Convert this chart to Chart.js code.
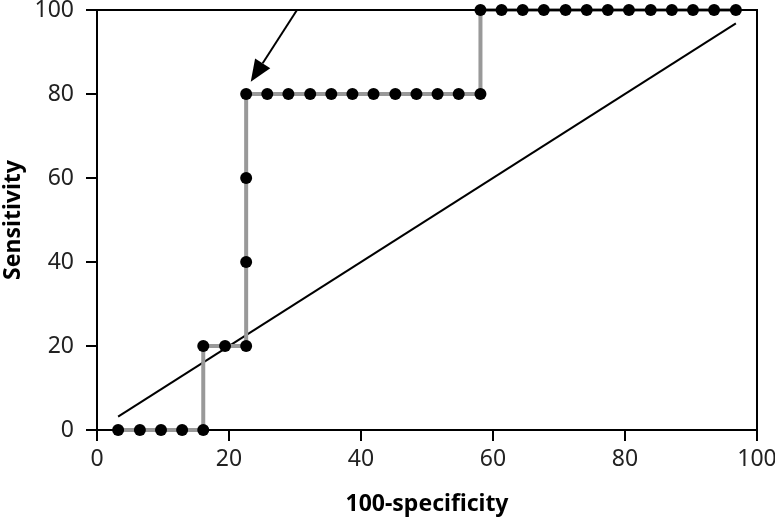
<!DOCTYPE html>
<html>
<head>
<meta charset="utf-8">
<script src="https://cdn.jsdelivr.net/npm/chart.js@4"></script>
<style>
  html, body { margin: 0; padding: 0; background: #fff; }
  #wrap { width: 775px; height: 518px; }
</style>
</head>
<body>
<div id="wrap"><canvas id="rocChart" width="775" height="518"></canvas></div>
<script>
// ROC curve points (100-specificity, sensitivity)
const rocX = [3.2, 6.5, 9.7, 12.9, 16.1, 16.1, 19.4, 22.6, 22.6, 22.6, 22.6,
              25.8, 29.0, 32.3, 35.5, 38.7, 41.9, 45.2, 48.4, 51.6, 54.8, 58.1,
              58.1, 61.3, 64.5, 67.7, 71.0, 74.2, 77.4, 80.6, 83.9, 87.1, 90.3, 93.5, 96.8];
const rocY = [0, 0, 0, 0, 0, 20, 20, 20, 40, 60, 80,
              80, 80, 80, 80, 80, 80, 80, 80, 80, 80, 80,
              100, 100, 100, 100, 100, 100, 100, 100, 100, 100, 100, 100, 100];
// reference diagonal
const diagX = [3.2, 96.8];
const diagY = [3.2, 96.8];
// arrow marking the cut-off point
const arrowFrom = [30.3, 100];
const arrowTo = [23.3, 82.9];
const axisTicks = [0, 20, 40, 60, 80, 100];

const frameAndArrow = {
    id: 'frameAndArrow',
    afterDatasetsDraw(chart) {
        const ctx = chart.ctx;
        const a = chart.chartArea;
        const xs = chart.scales.x, ys = chart.scales.y;
        ctx.save();
        ctx.strokeStyle = '#000';
        ctx.lineWidth = 2;
        ctx.beginPath();
        ctx.moveTo(a.left, a.top);
        ctx.lineTo(a.right, a.top);
        ctx.lineTo(a.right, a.bottom);
        ctx.stroke();

        const x1 = xs.getPixelForValue(arrowFrom[0]), y1 = ys.getPixelForValue(arrowFrom[1]);
        const x2 = xs.getPixelForValue(arrowTo[0]), y2 = ys.getPixelForValue(arrowTo[1]);
        const ang = Math.atan2(y2 - y1, x2 - x1);
        const headLen = 22, headW = 9;
        const bx = x2 - headLen * Math.cos(ang), by = y2 - headLen * Math.sin(ang);
        ctx.beginPath();
        ctx.moveTo(x1, y1);
        ctx.lineTo(bx, by);
        ctx.stroke();
        ctx.fillStyle = '#000';
        ctx.beginPath();
        ctx.moveTo(x2, y2);
        ctx.lineTo(bx + headW * Math.sin(ang), by - headW * Math.cos(ang));
        ctx.lineTo(bx - headW * Math.sin(ang), by + headW * Math.cos(ang));
        ctx.closePath();
        ctx.fill();
        ctx.restore();
    }
};

const ctx = document.getElementById('rocChart').getContext('2d');
new Chart(ctx, {
    type: 'scatter',
    data: {
        datasets: [
            {
                label: 'Reference',
                data: diagX.map((x, i) => ({ x: x, y: diagY[i] })),
                showLine: true,
                borderColor: '#000',
                borderWidth: 2,
                pointRadius: 0,
                order: 2
            },
            {
                label: 'ROC',
                data: rocX.map((x, i) => ({ x: x, y: rocY[i] })),
                showLine: true,
                borderColor: '#999',
                borderWidth: 4,
                pointRadius: 6,
                pointBackgroundColor: '#000',
                pointBorderColor: '#000',
                pointBorderWidth: 0,
                order: 1
            }
        ]
    },
    options: {
        responsive: false,
        animation: false,
        clip: false,
        layout: { padding: 0 },
        plugins: { legend: { display: false }, tooltip: { enabled: false } },
        scales: {
            x: {
                min: 0, max: 100,
                afterBuildTicks: s => { s.ticks = axisTicks.map(v => ({ value: v })); },
                afterFit: s => { s.height = 88; s.paddingLeft = 0; s.paddingRight = 18; },
                grid: { drawOnChartArea: false, drawTicks: true, tickLength: 11, color: '#000', lineWidth: 2 },
                border: { display: true, color: '#000', width: 2 },
                ticks: { color: '#222', font: { family: 'Noto Sans', size: 23 }, padding: 5, maxRotation: 0 },
                title: { display: true, text: '100-specificity', color: '#000',
                         font: { family: 'Noto Sans', size: 23, weight: 'bold' }, padding: { top: 4, bottom: 0 } }
            },
            y: {
                min: 0, max: 100,
                afterBuildTicks: s => { s.ticks = axisTicks.map(v => ({ value: v })); },
                afterFit: s => { s.width = 97; s.paddingTop = 10; s.paddingBottom = 0; },
                grid: { drawOnChartArea: false, drawTicks: true, tickLength: 11, color: '#000', lineWidth: 2 },
                border: { display: true, color: '#000', width: 2 },
                ticks: { color: '#222', font: { family: 'Noto Sans', size: 23 }, padding: 12 },
                title: { display: true, text: 'Sensitivity', color: '#000',
                         font: { family: 'Noto Sans', size: 23, weight: 'bold' }, padding: { top: 0, bottom: 4 } }
            }
        }
    },
    plugins: [frameAndArrow]
});
</script>
</body>
</html>
